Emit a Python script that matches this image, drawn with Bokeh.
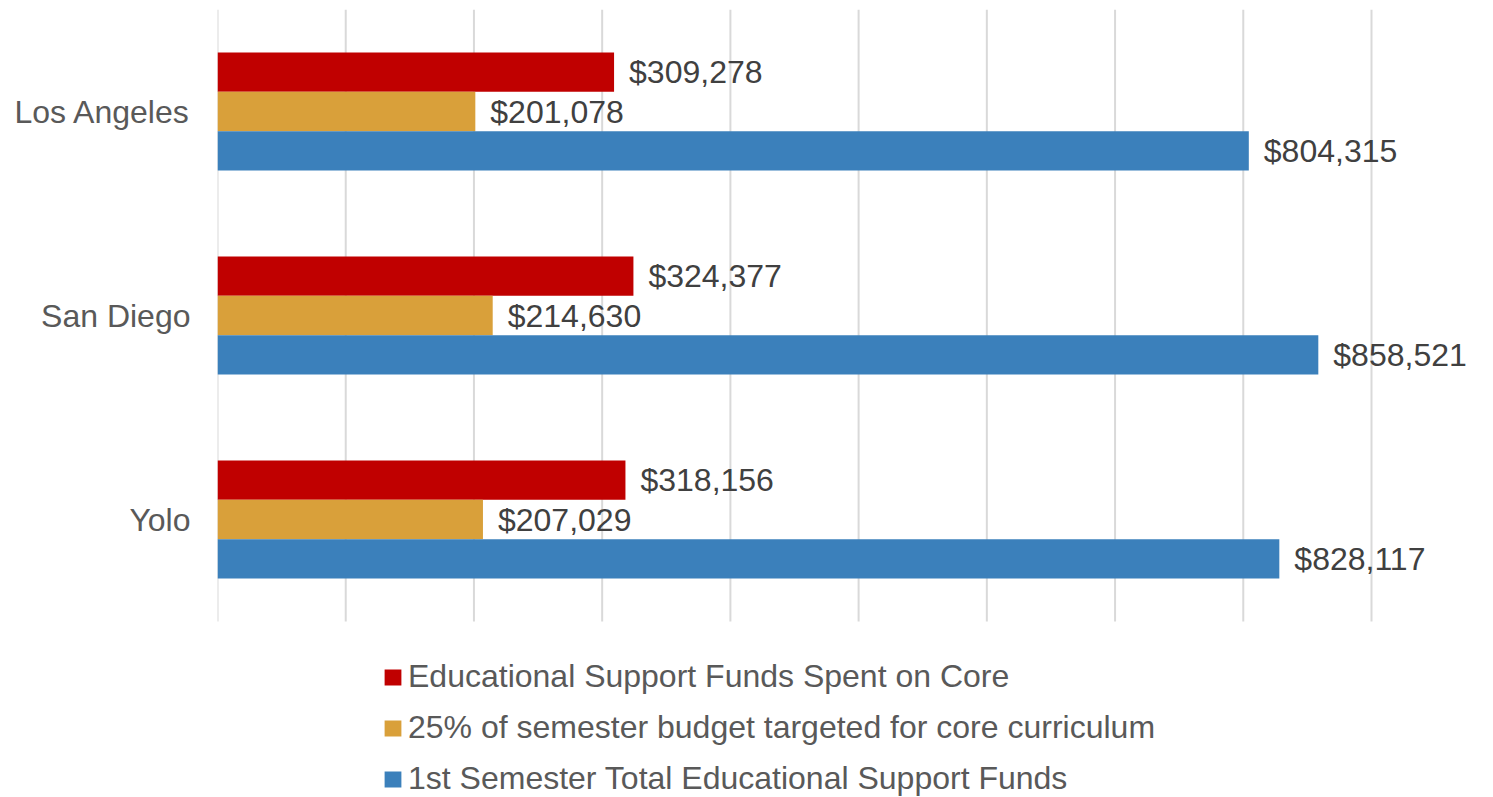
from bokeh.plotting import figure
from bokeh.models import ColumnDataSource, Range1d, FixedTicker, Legend, LegendItem
from bokeh.core.properties import value
from bokeh.embed import file_html
from bokeh.resources import INLINE

categories = ["Los Angeles", "San Diego", "Yolo"]
spent_core = [309278, 324377, 318156]
target_25 = [201078, 214630, 207029]
total_funds = [804315, 858521, 828117]
series_names = [
    "Educational Support Funds Spent on Core",
    "25% of semester budget targeted for core curriculum",
    "1st Semester Total Educational Support Funds",
]
colors = ["#C00000", "#D9A03A", "#3B80BB"]
grid_ticks = [0, 100000, 200000, 300000, 400000, 500000, 600000, 700000, 800000, 900000]

FONT = "Liberation Sans"
FS = "32px"
BAR_H = 0.193
n = len(categories)
# category centres: first category at top
ypos = [n - 0.5 - i for i in range(n)]

src = ColumnDataSource(dict(
    y_spent=[y + BAR_H for y in ypos],
    y_target=ypos,
    y_total=[y - BAR_H for y in ypos],
    spent=spent_core,
    target=target_25,
    total=total_funds,
    spent_lbl=[f"${v:,}" for v in spent_core],
    target_lbl=[f"${v:,}" for v in target_25],
    total_lbl=[f"${v:,}" for v in total_funds],
))

W, H = 1493, 797
TOP, LEFT = 9, 217
band_px = 204.0
frame_h = H - TOP
y_start = n - frame_h / band_px
px_per_unit = 1154.0 / 900000
x_end = (W - LEFT) / px_per_unit

p = figure(
    width=W, height=H,
    y_range=Range1d(y_start, n),
    x_range=Range1d(-1, x_end),
    output_backend="svg", toolbar_location=None,
    min_border_top=TOP, min_border_right=0, min_border_left=LEFT, min_border_bottom=0,
    outline_line_color=None,
)
p.xgrid.visible = False
p.ygrid.visible = False
p.xaxis.visible = False

# vertical gridlines spanning the category area only
gsrc = ColumnDataSource(dict(x=grid_ticks, y0=[0] * len(grid_ticks), y1=[n] * len(grid_ticks)))
p.segment(x0="x", y0="y0", x1="x", y1="y1", source=gsrc, line_color="#D9D9D9", line_width=2)

renderers = []
fields = [("spent", "spent_lbl", "y_spent"), ("target", "target_lbl", "y_target"), ("total", "total_lbl", "y_total")]
for (fld, lbl, yf), col in zip(fields, colors):
    r = p.hbar(y=yf, right=fld, left=0, height=BAR_H, source=src,
               fill_color=col, line_color=None)
    renderers.append(r)
    p.text(x=fld, y=yf, text=lbl, source=src,
           x_offset=15, text_baseline="middle", text_align="left",
           text_font=value(FONT), text_font_size=FS, text_color="#404040")

yax = p.yaxis[0]
yax.ticker = FixedTicker(ticks=ypos)
yax.major_label_overrides = {y: c for y, c in zip(ypos, categories)}
yax.axis_line_color = None
yax.major_tick_line_color = None
yax.minor_tick_line_color = None
yax.major_tick_out = 0
yax.major_tick_in = 0
yax.minor_tick_out = 0
yax.major_label_text_font = FONT
yax.major_label_text_font_size = FS
yax.major_label_text_color = "#595959"
yax.major_label_standoff = 27

legend = Legend(
    items=[LegendItem(label=s, renderers=[r]) for s, r in zip(series_names, renderers)],
    orientation="vertical",
    location=(382 - LEFT, 0),
    glyph_width=21, glyph_height=20,
    label_standoff=5,
    label_text_font=FONT, label_text_font_size=FS, label_text_color="#595959",
    label_height=37, spacing=14,
    padding=0, margin=0,
    border_line_color=None, background_fill_alpha=0,
)
p.add_layout(legend, "center")

open("out.html", "w").write(file_html(p, INLINE))
